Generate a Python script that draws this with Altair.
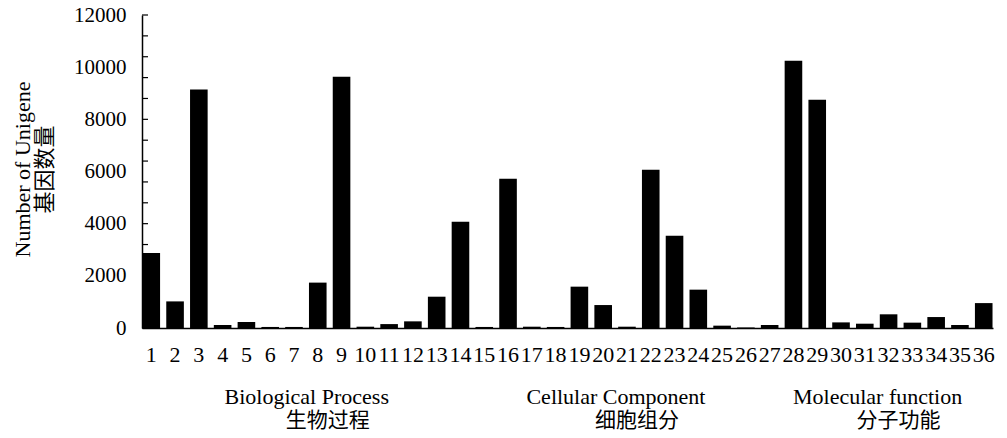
import altair as alt
import pandas as pd

categories = [str(i) for i in range(1, 37)]
values = [2875, 1020, 9140, 115, 230, 40, 40, 1740, 9635, 50,
          150, 255, 1200, 4075, 40, 5725, 50, 40, 1585, 880,
          50, 6070, 3540, 1470, 90, 20, 115, 10250, 8750, 215,
          165, 525, 205, 420, 115, 955]

tick_values = list(range(0, 12001, 800))
label_values = list(range(0, 12001, 2000))

groups_en = ["Biological Process", "Cellular Component", "Molecular function"]
groups_cn = ["生物过程", "细胞组分", "分子功能"]
group_anchor = ["8", "21", "32"]

W, H = 851, 313
SERIF = "Liberation Serif"
CJK = "Liberation Serif, Noto Sans CJK SC"

bars_df = pd.DataFrame({"cat": categories, "value": values})
ticks_df = pd.DataFrame({"v": tick_values})
groups_df = pd.DataFrame({"cat": group_anchor, "en": groups_en, "cn": groups_cn})

xscale = alt.Scale(domain=categories, paddingInner=0.26, paddingOuter=0.02)
yscale = alt.Scale(domain=[0, 12000], nice=False)

bars = alt.Chart(bars_df).mark_bar(color="black").encode(
    x=alt.X("cat:N", sort=categories, scale=xscale,
            axis=alt.Axis(title=None, labelAngle=0, ticks=False, grid=False,
                          domainColor="black", domainWidth=1.5,
                          labelFont=SERIF, labelFontSize=22, labelColor="black",
                          labelPadding=16)),
    y=alt.Y("value:Q", scale=yscale,
            axis=alt.Axis(values=label_values, format="d", ticks=False, grid=False,
                          domainColor="black", domainWidth=1.5,
                          labelFont=SERIF, labelFontSize=21, labelColor="black",
                          labelPadding=16,
                          title=["Number of Unigene", "基因数量"],
                          titleFont=CJK, titleFontSize=22, titleFontWeight="normal",
                          titleColor="black", titleAngle=270,
                          titleAlign="center", titleBaseline="middle",
                          titleLineHeight=22, titleX=-120, titleY=154)),
)

ticks = alt.Chart(ticks_df).mark_rule(color="black", strokeWidth=1.2).encode(
    y=alt.Y("v:Q", scale=yscale),
    x=alt.value(0),
    x2=alt.value(6),
)

labels_en = alt.Chart(groups_df).mark_text(
    dx=-11, font=SERIF, fontSize=22, color="black", baseline="middle", align="center"
).encode(
    x=alt.X("cat:N", sort=categories, scale=xscale),
    y=alt.value(382),
    text="en:N",
)

labels_cn = alt.Chart(groups_df).mark_text(
    dx=10, font="Noto Sans CJK SC", fontSize=21, color="black", baseline="middle", align="center"
).encode(
    x=alt.X("cat:N", sort=categories, scale=xscale),
    y=alt.value(406),
    text="cn:N",
)

chart = alt.layer(bars, ticks, labels_en, labels_cn).properties(
    width=W, height=H,
    autosize=alt.AutoSizeParams(type="none"),
    padding={"left": 134, "top": 7, "right": 6, "bottom": 102},
    background="white",
).configure_view(stroke="transparent")

chart.save("out.html", embed_options={"renderer": "svg", "actions": False})
